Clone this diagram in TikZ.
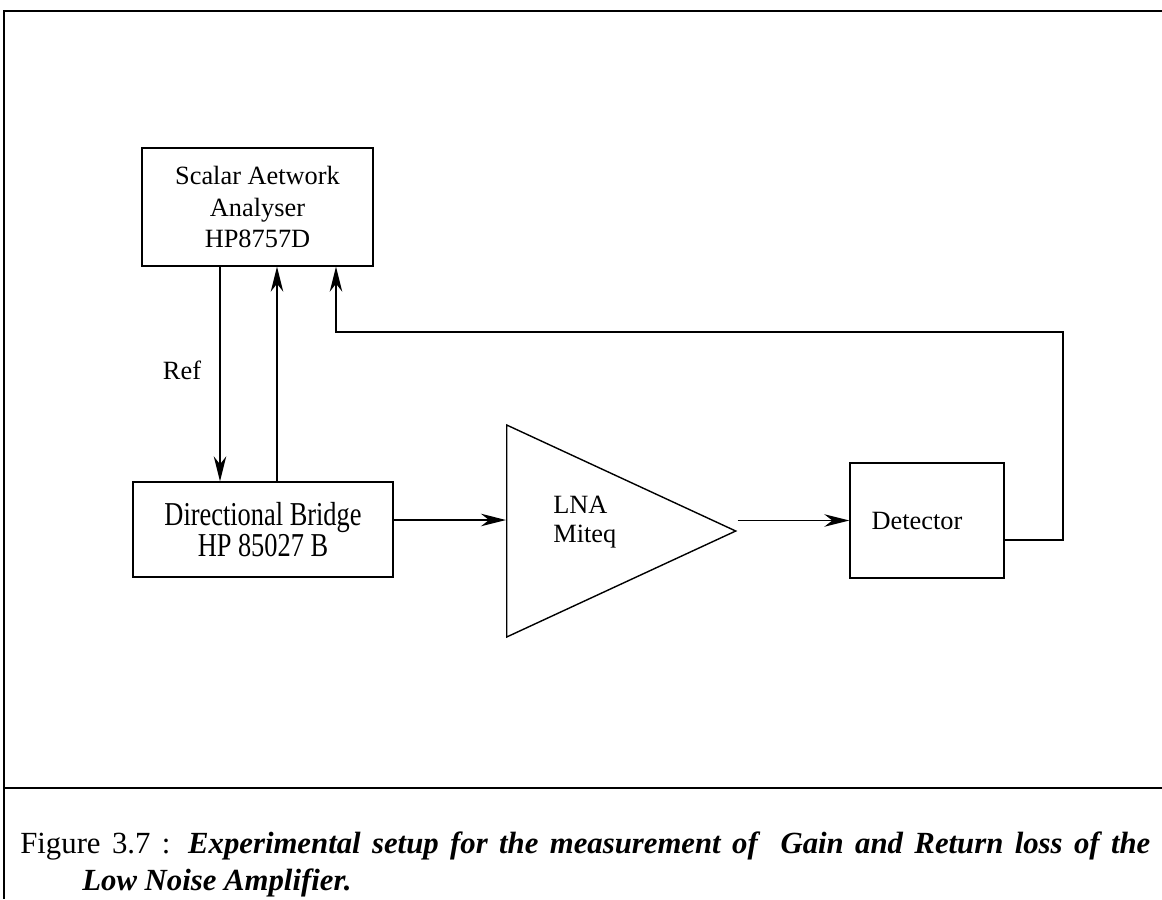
\documentclass[tikz,border=0pt]{standalone}
\usepackage{fontspec}
\setmainfont{Liberation Serif}
\usepackage{xcolor}
\usepackage{graphicx}
\usepackage{tikz}
\usetikzlibrary{shapes.geometric}
\usetikzlibrary{arrows.meta}
\newcommand{\Narrow}[1]{\scalebox{0.79}[1]{#1}}
\tikzstyle{Block}=[draw,line width=0.8pt,align=center,inner sep=0pt,
font=\fontsize{15}{18.1}\selectfont]
\tikzstyle{Amp}=[draw,line width=0.8pt,isosceles triangle,
isosceles triangle stretches,minimum width=4.24cm,minimum height=4.58cm,
inner sep=0pt]
\tikzstyle{Label}=[inner sep=0pt,font=\fontsize{15}{16.7}\selectfont]
\tikzstyle{Caption}=[inner sep=0pt,font=\fontsize{17.5}{20}\selectfont]
\tikzstyle{Edge}=[line width=0.8pt]
\tikzstyle{Arrow}=[Edge,-{Stealth[length=5mm,width=2.5mm,inset=1.6mm]}]
\tikzstyle{Frame}=[line width=0.6pt]

\begin{document}
\begin{tikzpicture}
    \useasboundingbox (0,0) rectangle (23.24,-17.98);
    \draw[Frame](23.24,-0.22)--(0.08,-0.22)--(0.08,-17.98);
    \draw[Frame](0.08,-15.76)--(23.24,-15.76);
    \node[Block,minimum width=4.62cm,minimum height=2.36cm](sna)at(5.15,-4.14)
        {Scalar Aetwork\\Analyser\\HP8757D};
    \node[Block,minimum width=5.2cm,minimum height=1.9cm,
        font=\fontsize{19}{14.2}\selectfont](bridge)at(5.26,-10.59)
        {\Narrow{Directional Bridge}\\\Narrow{HP 85027 B}};
    \node[Amp,anchor=lower side](lna)at(10.12,-10.62){};
    \node[Label,anchor=west,align=left](lnatext)at(11.06,-10.44){LNA\\Miteq};
    \node[Block,minimum width=3.08cm,minimum height=2.3cm](det)at(18.54,-10.41)
        {Detector\hspace*{0.4cm}};
    \node[Label](ref)at(3.64,-7.40){Ref};
    \coordinate(corner)at(21.26,-6.64);
    \draw[Arrow]([xshift=-0.75cm]sna.south)--([xshift=-0.75cm]sna.south|-bridge.north);
    \draw[Arrow]([xshift=0.39cm]sna.south|-bridge.north)--([xshift=0.39cm]sna.south);
    \draw[Arrow]([yshift=0.19cm]bridge.east)--([yshift=0.19cm]bridge.east-|lna.lower side);
    \draw[Arrow](lna.apex|-det.west)--(det.west);
    \draw[Arrow]([yshift=-0.39cm]det.east)-|(corner)-|([xshift=1.57cm]sna.south);
    \node[Caption,anchor=base west](cap)at(0.40,-17.06)
        {\makebox[22.6cm][s]{Figure 3.7 : \textbf{\textit{Experimental setup for the measurement of\ \ Gain and Return loss of the}}}};
    \node[Caption,anchor=base west](cap2)at(1.64,-17.80)
        {\textbf{\textit{Low Noise Amplifier.}}};
\end{tikzpicture}
\end{document}
